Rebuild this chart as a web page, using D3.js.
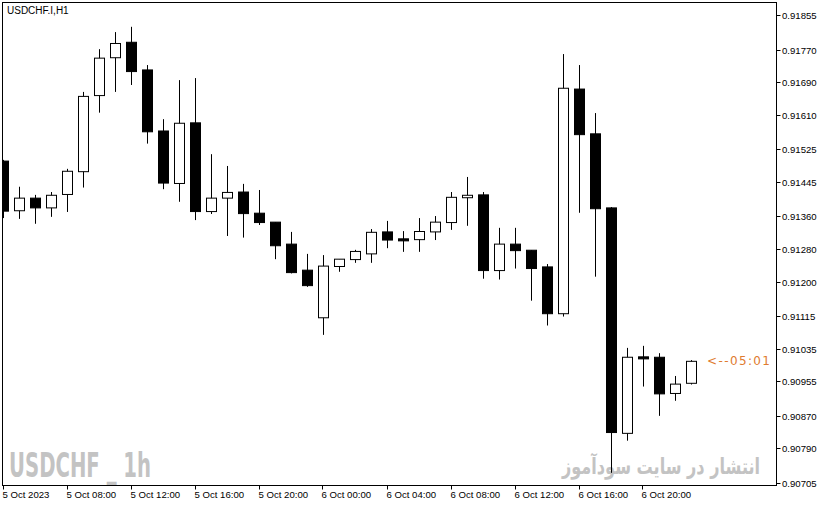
<!DOCTYPE html>
<html><head><meta charset="utf-8">
<script src="https://cdn.jsdelivr.net/npm/d3@7"></script>
<style>html,body{margin:0;padding:0;background:#fff;}svg{display:block;}</style>
</head><body>
<script>
const opens  = [0.91496,0.91374,0.91405,0.91381,0.91414,0.91470,0.91657,0.91750,0.91788,0.91720,0.91570,0.91441,0.91590,0.91372,0.91405,0.91420,0.91368,0.91346,0.91292,0.91228,0.91111,0.91237,0.91254,0.91268,0.91322,0.91305,0.91303,0.91322,0.91345,0.91406,0.91413,0.91227,0.91292,0.91277,0.91236,0.91121,0.91673,0.91563,0.91381,0.90827,0.91015,0.91014,0.90925,0.90950];
const highs  = [0.91499,0.91433,0.91413,0.91420,0.91477,0.91666,0.91771,0.91813,0.91826,0.91732,0.91599,0.91695,0.91700,0.91513,0.91484,0.91440,0.91425,0.91346,0.91322,0.91268,0.91265,0.91255,0.91278,0.91329,0.91349,0.91324,0.91356,0.91361,0.91420,0.91457,0.91420,0.91332,0.91332,0.91277,0.91243,0.91759,0.91732,0.91614,0.91383,0.91037,0.91042,0.91024,0.90968,0.91007];
const lows   = [0.91356,0.91354,0.91342,0.91359,0.91371,0.91431,0.91615,0.91666,0.91683,0.91539,0.91427,0.91396,0.91351,0.91366,0.91312,0.91308,0.91339,0.91255,0.91220,0.91187,0.91069,0.91224,0.91246,0.91246,0.91282,0.91273,0.91273,0.91302,0.91327,0.91337,0.91207,0.91205,0.91232,0.91153,0.91092,0.91114,0.91369,0.91212,0.90730,0.90809,0.90942,0.90870,0.90907,0.90947];
const closes = [0.91373,0.91405,0.91381,0.91412,0.91471,0.91655,0.91749,0.91785,0.91716,0.91568,0.91442,0.91589,0.91372,0.91405,0.91419,0.91367,0.91345,0.91288,0.91222,0.91190,0.91238,0.91255,0.91274,0.91321,0.91302,0.91300,0.91323,0.91346,0.91407,0.91412,0.91227,0.91292,0.91276,0.91232,0.91121,0.91675,0.91561,0.91379,0.90829,0.91014,0.91010,0.90924,0.90948,0.91004];
const priceTicks = ["0.91855","0.91770","0.91690","0.91610","0.91525","0.91445","0.91360","0.91280","0.91200","0.91115","0.91035","0.90955","0.90870","0.90790","0.90705"];
const timeTickIndex = [0,4,8,12,16,20,24,28,32,36,40];
const timeTickLabels = ["5 Oct 2023","5 Oct 08:00","5 Oct 12:00","5 Oct 16:00","5 Oct 20:00","6 Oct 00:00","6 Oct 04:00","6 Oct 08:00","6 Oct 12:00","6 Oct 16:00","6 Oct 20:00"];
const chartTitle = "USDCHF.I,H1";
const countdown = "<--05:01";
const watermarkEn = "USDCHF _ 1h";
const watermarkFa = "انتشار در سایت سودآموز";

const W = 821, H = 506;
const L = 2.5, T = 2.5, R = 776.5, B = 485.5;
const svg = d3.select("body").append("svg").attr("width", W).attr("height", H);

const x = d3.scaleLinear().domain([0, opens.length - 1]).range([3.5, 3.5 + 16 * (opens.length - 1)]);
const y = d3.scaleLinear().domain([0.90705, 0.91855]).range([483, 15]);

svg.append("defs").append("clipPath").attr("id", "plot")
  .append("rect").attr("x", L).attr("y", T).attr("width", R - L).attr("height", B - T);

// watermarks
svg.append("text").attr("x", 9).attr("y", 477)
  .attr("font-family", "'Liberation Sans Narrow','DejaVu Sans Condensed','Liberation Sans',sans-serif")
  .attr("font-weight", "bold").attr("font-size", 33).attr("fill", "#c3c3c3")
  .attr("textLength", 142).attr("lengthAdjust", "spacingAndGlyphs").text(watermarkEn);
svg.append("text").attr("x", 562).attr("y", 474)
  .attr("font-family", "'DejaVu Sans',sans-serif").attr("font-weight", "bold")
  .attr("font-size", 22).attr("fill", "#c3c3c3")
  .attr("textLength", 198).attr("lengthAdjust", "spacingAndGlyphs")
  .text(watermarkFa);

const data = opens.map((o, i) => ({i, o, h: highs[i], l: lows[i], c: closes[i]}));
const g = svg.append("g").attr("clip-path", "url(#plot)");

g.selectAll("line.wick").data(data).join("line")
  .attr("x1", d => x(d.i)).attr("x2", d => x(d.i))
  .attr("y1", d => y(d.h)).attr("y2", d => y(d.l))
  .attr("stroke", "#000").attr("stroke-width", 1);

g.selectAll("rect.body").data(data).join("rect")
  .attr("x", d => x(d.i) - 5)
  .attr("y", d => y(Math.max(d.o, d.c)))
  .attr("width", 10)
  .attr("height", d => Math.max(1, Math.abs(y(d.o) - y(d.c))))
  .attr("fill", d => d.c >= d.o ? "#fff" : "#000")
  .attr("stroke", "#000").attr("stroke-width", 1);

// frame
svg.append("rect").attr("x", L).attr("y", T).attr("width", R - L).attr("height", B - T)
  .attr("fill", "none").attr("stroke", "#000").attr("stroke-width", 1);

// title
svg.append("text").attr("x", 7).attr("y", 14)
  .attr("font-family", "'Liberation Sans',sans-serif").attr("font-size", 10).attr("fill", "#000")
  .text(chartTitle);

// price axis
const yAxis = svg.append("g");
priceTicks.forEach(t => {
  const v = +t, yy = Math.round(y(v)) + 0.5;
  yAxis.append("line").attr("x1", R).attr("x2", R + 4).attr("y1", yy).attr("y2", yy).attr("stroke", "#000");
  yAxis.append("text").attr("x", 782).attr("y", yy + 3.5)
    .attr("font-family", "'Liberation Sans',sans-serif").attr("font-size", 9.6).attr("fill", "#000").text(t);
});

// time axis
const xAxis = svg.append("g");
timeTickIndex.forEach((idx, k) => {
  const xx = Math.round(x(idx)) - 0.5;
  xAxis.append("line").attr("x1", xx).attr("x2", xx).attr("y1", B).attr("y2", B + 4).attr("stroke", "#000");
  xAxis.append("text").attr("x", xx - 1).attr("y", 497.5)
    .attr("font-family", "'Liberation Sans',sans-serif").attr("font-size", 9.6).attr("fill", "#000").text(timeTickLabels[k]);
});

// countdown
svg.append("text").attr("x", 707).attr("y", y(closes[closes.length - 1]) + 4)
  .attr("font-family", "'DejaVu Sans',sans-serif").attr("font-size", 12).attr("fill", "#e07b2f")
  .attr("textLength", 63).attr("lengthAdjust", "spacing").text(countdown);
</script>
</body></html>
